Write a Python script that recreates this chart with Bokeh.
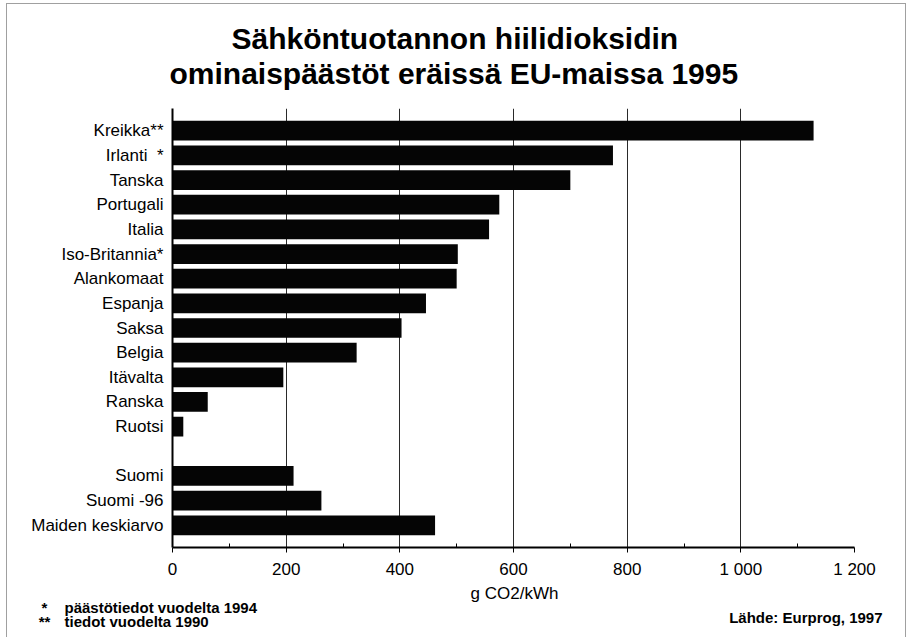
from bokeh.plotting import figure
from bokeh.models import Range1d, FixedTicker, ColumnDataSource, Label
from bokeh.embed import file_html
from bokeh.resources import INLINE

# Specific CO2 emissions of electricity production, g CO2/kWh
countries = ["Kreikka**", "Irlanti\u00a0 *", "Tanska", "Portugali", "Italia",
             "Iso-Britannia*", "Alankomaat", "Espanja", "Saksa", "Belgia",
             "Itävalta", "Ranska", "Ruotsi"]
country_values = [1128, 775, 700, 575, 557, 502, 500, 446, 403, 324, 195, 62, 19]

finland_labels = ["Suomi", "Suomi -96", "Maiden keskiarvo"]
finland_values = [213, 262, 462]

x_ticks = [0, 200, 400, 600, 800, 1000, 1200]
x_tick_labels = ["0", "200", "400", "600", "800", "1 000", "1 200"]
x_minor_ticks = [100, 300, 500, 700, 900, 1100]

title_lines = ["Sähköntuotannon hiilidioksidin",
               "ominaispäästöt eräissä EU-maissa 1995"]
x_label = "g CO2/kWh"
note_marks = ["*", "**"]
note_texts = ["päästötiedot vuodelta 1994", "tiedot vuodelta 1990"]
source_note = "Lähde: Eurprog, 1997"

# one empty row separates the country group from the Finnish rows
labels = countries + [""] + finland_labels
values = country_values + [None] + finland_values
rows = [i for i, v in enumerate(values) if v is not None]

src = ColumnDataSource(dict(
    row=rows,
    value=[values[i] for i in rows],
    name=[labels[i] for i in rows],
))

FONT = "Liberation Sans"

p = figure(width=900, height=634,
           x_range=Range1d(0, 1200),
           y_range=Range1d(len(labels) - 1 + 0.9, -0.9),
           output_backend="svg", toolbar_location=None,
           min_border_left=165, min_border_right=53,
           min_border_top=104, min_border_bottom=91)
p.margin = (3, 0, 0, 6)
p.styles = {"border-top": "1px solid #a0a0a0",
            "border-left": "1px solid #a0a0a0",
            "border-right": "1px solid #a0a0a0"}

p.hbar(y="row", left=0, right="value", height=0.8, source=src,
       fill_color="#050505", line_color=None)

p.outline_line_color = None
p.background_fill_color = "white"
p.border_fill_color = "white"

# vertical grid
p.ygrid.visible = False
p.xgrid.ticker = FixedTicker(ticks=x_ticks)
p.xgrid.grid_line_color = "#2a2a2a"
p.xgrid.grid_line_width = 1

# x axis
xa = p.xaxis[0]
xa.ticker = FixedTicker(ticks=x_ticks, minor_ticks=x_minor_ticks)
xa.major_label_overrides = dict(zip(x_ticks, x_tick_labels))
xa.axis_line_color = "black"
xa.axis_line_width = 2
xa.major_tick_in = 0
xa.major_tick_out = 5
xa.minor_tick_in = 4
xa.minor_tick_out = 0
xa.major_tick_line_color = "black"
xa.minor_tick_line_color = "black"
xa.major_label_standoff = 7
xa.major_label_text_font = FONT
xa.major_label_text_font_size = "17px"
xa.major_label_text_color = "black"

# y axis with row names
ya = p.yaxis[0]
ya.ticker = FixedTicker(ticks=rows)
ya.major_label_overrides = {r: labels[r] for r in rows}
ya.axis_line_color = "black"
ya.axis_line_width = 2
ya.major_tick_in = 0
ya.major_tick_out = 0
ya.minor_tick_in = 0
ya.minor_tick_out = 0
ya.major_label_standoff = 9
ya.major_label_text_font = FONT
ya.major_label_text_font_size = "17px"
ya.major_label_text_color = "black"


# heading, unit and notes: placed in canvas pixels, kept in the margin panels
def canvas_label(text, x, y, align, size, side, style="bold"):
    p.add_layout(Label(x=x, y=y, x_units="canvas", y_units="canvas",
                       text=text, text_align=align,
                       text_baseline="alphabetic", text_font=FONT,
                       text_font_size=size, text_font_style=style,
                       text_color="black"), side)


frame_mid = 165 + (900 - 165 - 53) / 2
canvas_label(title_lines[0], 223, 33, "left", "30px", "above")
canvas_label(title_lines[1], 161, 68, "left", "30px", "above")
canvas_label(note_texts[1], 56, 616, "left", "15px", "above")
canvas_label(x_label, frame_mid, 588, "center", "17px", "below", "normal")
canvas_label(note_texts[0], 56, 602, "left", "15px", "below")
canvas_label(source_note, 874, 612, "right", "15px", "below")
canvas_label(note_marks[0], 36, 602, "center", "15px", "left")
canvas_label(note_marks[1], 36, 616, "center", "15px", "left")

open("out.html", "w").write(file_html(p, INLINE))
